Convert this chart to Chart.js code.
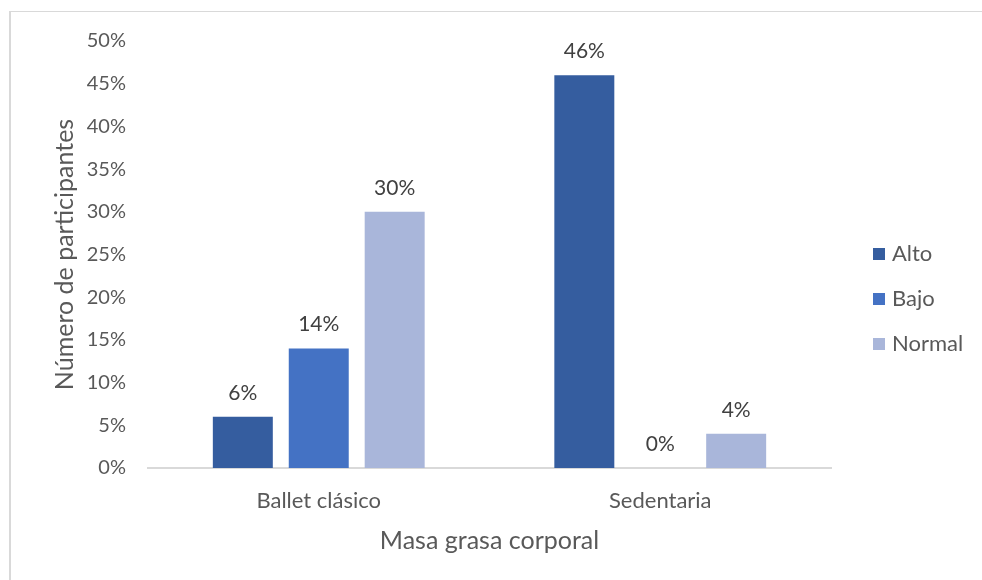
<!DOCTYPE html>
<html>
<head>
<meta charset="utf-8">
<script src="https://cdn.jsdelivr.net/npm/chart.js@4.4.0/dist/chart.umd.min.js"></script>
<style>
  html, body { margin: 0; padding: 0; background: #fff; }
  #wrap { position: relative; width: 982px; height: 580px; overflow: hidden; }
  #frame { position: absolute; left: 9px; top: 11px; width: 1000px; height: 600px;
           border-left: 2px solid #d9d9d9; border-top: 1px solid #d9d9d9; }
  canvas { position: absolute; left: 0; top: 0; }
</style>
</head>
<body>
<div id="wrap">
  <div id="frame"></div>
  <canvas id="masa" width="982" height="580"></canvas>
</div>
<script>
"use strict";

/* data */
var categorias = ['Ballet clásico', 'Sedentaria'];
var alto = [6, 46];
var bajo = [14, 0];
var normal = [30, 4];
var yTicks = [0, 5, 10, 15, 20, 25, 30, 35, 40, 45, 50];

var fontFam = 'Lato, "Noto Sans", sans-serif';

/* value labels above bars */
var barLabels = {
    id: 'barLabels',
    afterDatasetsDraw: function (chart) {
        var ctx = chart.ctx;
        ctx.save();
        ctx.font = '21px ' + fontFam;
        ctx.fillStyle = '#404040';
        ctx.textAlign = 'center';
        ctx.textBaseline = 'middle';
        chart.data.datasets.forEach(function (ds, i) {
            var meta = chart.getDatasetMeta(i);
            meta.data.forEach(function (bar, j) {
                ctx.fillText(ds.data[j] + '%', bar.x, bar.y - 24);
            });
        });
        ctx.restore();
    }
};

/* legend on the right, excel style */
var sideLegend = {
    id: 'sideLegend',
    afterDraw: function (chart) {
        var ctx = chart.ctx;
        var x = chart.chartArea.right + 42;
        var y = 254;
        ctx.save();
        ctx.font = '22px ' + fontFam;
        ctx.textBaseline = 'middle';
        ctx.textAlign = 'left';
        chart.data.datasets.forEach(function (ds, i) {
            var yy = y + i * 45;
            ctx.fillStyle = ds.backgroundColor;
            ctx.fillRect(x, yy - 6, 12, 12);
            ctx.fillStyle = '#595959';
            ctx.fillText(ds.label, x + 19, yy);
        });
        ctx.restore();
    }
};

var ctx = document.getElementById('masa').getContext('2d');
var masaChart = new Chart(ctx, {
    type: 'bar',
    data: {
        labels: categorias,
        datasets: [{
            label: 'Alto',
            data: alto,
            backgroundColor: '#355D9F'
        }, {
            label: 'Bajo',
            data: bajo,
            backgroundColor: '#4472C4'
        }, {
            label: 'Normal',
            data: normal,
            backgroundColor: '#A9B6DA'
        }]
    },
    options: {
        responsive: false,
        animation: false,
        categoryPercentage: 0.667,
        barPercentage: 0.79,
        layout: {
            padding: { left: 50, top: 41, right: 151, bottom: 20 }
        },
        plugins: {
            legend: { display: false },
            tooltip: { enabled: false }
        },
        scales: {
            y: {
                min: 0,
                max: 50,
                afterBuildTicks: function (scale) {
                    scale.ticks = yTicks.map(function (v) { return { value: v }; });
                },
                afterFit: function (scale) { scale.width = 98; },
                grid: { display: false, drawTicks: false },
                border: { display: false },
                ticks: {
                    padding: 22,
                    color: '#595959',
                    font: { size: 20, family: fontFam },
                    callback: function (v) { return v + '%'; }
                },
                title: {
                    display: true,
                    text: 'Número de participantes',
                    color: '#595959',
                    font: { size: 25, family: fontFam },
                    padding: { top: 0, bottom: 0 }
                }
            },
            x: {
                grid: { display: false, drawTicks: false },
                border: { display: true, color: '#d9d9d9', width: 2 },
                afterFit: function (scale) { scale.height = 92; },
                ticks: {
                    padding: 20,
                    color: '#595959',
                    font: { size: 22, family: fontFam }
                },
                title: {
                    display: true,
                    text: 'Masa grasa corporal',
                    color: '#595959',
                    font: { size: 25, family: fontFam },
                    padding: { top: 8 }
                }
            }
        }
    },
    plugins: [barLabels, sideLegend]
});
</script>
</body>
</html>
